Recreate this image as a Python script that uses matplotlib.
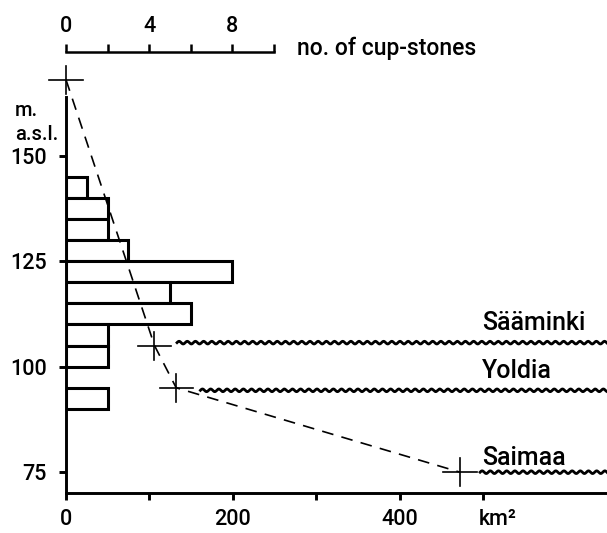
import numpy as np
import matplotlib
matplotlib.use("Agg")
import matplotlib.pyplot as plt
from matplotlib.transforms import ScaledTranslation

# cup-stones per 5 m elevation bin (bin bottom, count)
bin_bottom = [140, 135, 130, 125, 120, 115, 110, 105, 100, 90]
n_stones = [1, 2, 2, 3, 8, 5, 6, 2, 2, 2]

# land area above shoreline (km2) vs elevation (m a.s.l.)
area_km2 = [0, 106, 132, 472]
elev_m = [168, 105, 95, 75]

# shorelines
shore_names = ["Sääminki", "Yoldia", "Saimaa"]
shore_level = [105.7, 94.4, 75]
shore_start = [133, 161, 496]
shore_label_y = [110.3, 99.0, 78.4]

plt.rcParams["font.family"] = ["Roboto", "Liberation Sans", "DejaVu Sans"]
plt.rcParams["font.weight"] = "medium"

W, H = 607, 533
fig = plt.figure(figsize=(W / 100, H / 100), dpi=100)
ax = fig.add_axes([66 / W, (H - 493.3) / H, 541 / W, 413.6 / H])
ax.set_xlim(0, 648)
ax.set_ylim(70, 168)

lw_ax = 2.1
for s in ["top", "right"]:
    ax.spines[s].set_visible(False)
ax.spines["left"].set_linewidth(lw_ax)
ax.spines["bottom"].set_linewidth(lw_ax)
ax.spines["left"].set_bounds(70, 164)
ax.set_yticks([75, 100, 125, 150])
ax.set_xticks([0, 100, 200, 300, 400, 500])
ax.set_xticklabels(["0", "", "200", "", "400", "km²"])
ax.tick_params(axis="both", length=5, width=lw_ax, labelsize=15.5)
ax.tick_params(axis="x", pad=6)
ax.tick_params(axis="y", pad=9)
km_lab = ax.get_xticklabels()[-1]
km_lab.set_transform(km_lab.get_transform() + ScaledTranslation(0.14, 0, fig.dpi_scale_trans))

# cup-stone histogram on its own x scale
axb = ax.twiny()
axb.set_xlim(0, 541 / 20.8)
axb.set_ylim(70, 168)
axb.barh(bin_bottom, n_stones, height=5, align="edge", left=0,
         facecolor="white", edgecolor="black", linewidth=2.2, zorder=2)
for s in ["bottom", "left", "right"]:
    axb.spines[s].set_visible(False)
axb.spines["top"].set_position(("axes", (493.3 - 52) / 413.6))
axb.spines["top"].set_bounds(0, 10)
axb.spines["top"].set_linewidth(1.8)
axb.set_xticks([0, 2, 4, 6, 8, 10])
axb.set_xticklabels(["0", "", "4", "", "8", ""])
axb.tick_params(axis="x", length=6, width=1.8, labelsize=15.5, pad=5)
axb.patch.set_visible(False)

# dashed curve with crosses (drawn on main axes, above bars)
ax.set_zorder(axb.get_zorder() + 1)
ax.patch.set_visible(False)
ax.plot(area_km2, elev_m, color="black", lw=1.2, ls=(0, (7, 5)), clip_on=False)
for xv, yv in zip(area_km2, elev_m):
    ax.plot([xv - 20, xv + 20], [yv, yv], color="black", lw=1.2, clip_on=False)
    ax.plot([xv, xv], [yv - 3.3, yv + 3.3], color="black", lw=1.2, clip_on=False)

# wavy shorelines
for name, lev, x0, ly in zip(shore_names, shore_level, shore_start, shore_label_y):
    xs = np.linspace(x0, 648, 600)
    ys = lev + 0.32 * np.sin(2 * np.pi * (xs - x0) / 9.8)
    ax.plot(xs, ys, color="black", lw=2.0, clip_on=False)
    ax.text(498, ly, name, fontsize=18, va="center", ha="left")

fig.text(15 / W, 1 - 111 / H, "m.", fontsize=14.5, va="center", ha="left")
fig.text(15 / W, 1 - 135 / H, "a.s.l.", fontsize=14.5, va="center", ha="left")
fig.text(297 / W, 1 - 48 / H, "no. of cup-stones", fontsize=16.5, va="center", ha="left")

fig.savefig("out.png", dpi=100, facecolor="white")
